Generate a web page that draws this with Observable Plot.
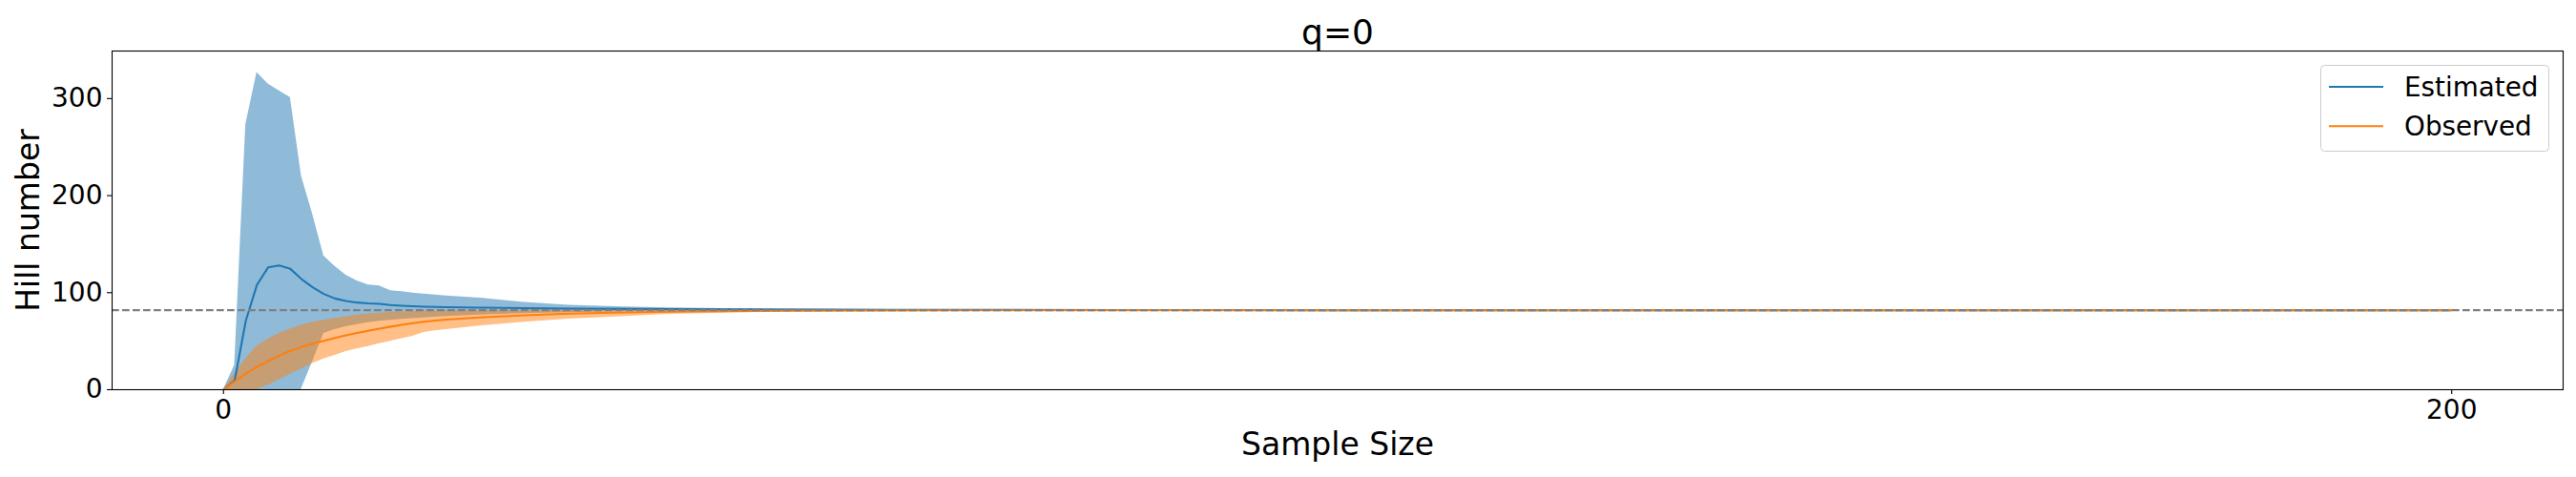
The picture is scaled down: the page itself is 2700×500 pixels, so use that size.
<!DOCTYPE html>
<html>
<head>
<meta charset="utf-8">
<script src="https://cdn.jsdelivr.net/npm/d3@7"></script>
<script src="https://cdn.jsdelivr.net/npm/@observablehq/plot@0.6"></script>
<style>
  body { margin: 0; background: #fff; }
  #wrap { position: relative; width: 2700px; height: 500px; font-family: "DejaVu Sans", sans-serif; }
  #legend { position: absolute; left: 2432px; top: 68px; width: 240px; height: 91px; }
</style>
</head>
<body>
<div id="wrap"><div id="legend"></div></div>
<script>
// ---- data ----
const title = "q=0";
const xLabel = "Sample Size";
const yLabel = "Hill number";
const seriesNames = ["Estimated", "Observed"];
const seriesColors = ["#1f77b4", "#ff7f0e"];
const xTicks = [0, 200];
const yTicks = [0, 100, 200, 300];
const refLine = 82;

const sampleSize = [0,1,2,3,4,5,6,7,8,9,10,11,12,13,14,15,16,17,18,19,20,23,27,31,36,40,45,50,60,70,80,100,150,200];
const estimated  = [0,9.5,71,108,126,128,124.5,114,105.5,98.7,94,91.5,89.8,88.9,88.5,87.2,86.5,86,85.6,85.3,85.1,84.6,84,83.6,83.2,83,82.7,82.5,82.3,82.2,82.1,82,82,82];
const estLower   = [0,-20,-150,-250,-230,-170,-60,1,29,58,62,65,67,69,70.5,71.5,72.5,73.3,74,74.8,75.5,77,78.5,79.5,80.3,80.8,81.1,81.4,81.7,81.8,81.9,82,82,82];
const estUpper   = [0,25,273,327,315,308,301,220,181,138,127,118,112,108,107,102,101,99.5,98.5,97.5,96.5,94.5,90,87,85.2,84.3,83.6,83.2,82.7,82.4,82.2,82.1,82,82];
const observed   = [0,8.5,16.5,23.5,29.5,35,40,44,47.5,50.5,53.3,56,58.5,60.8,63,65,66.8,68.5,70,71.2,72.3,74.5,76.7,78.4,79.7,80.4,80.9,81.3,81.7,81.9,82,82,82,82];
const obsLower   = [0,0,0,0,4.5,10,16,21.5,27,31.8,35.5,39.3,42,44.5,47.5,50,52.5,55,59,60.7,62,65.6,69.5,72.8,75.5,77.6,79,80,81,81.5,81.8,82,82,82];
const obsUpper   = [0,17,32,45,52,58,62.5,66.5,69.5,71.5,73.5,75.3,77,78.2,79,79.6,80.1,80.5,80.8,81.1,81.3,81.6,81.8,81.9,82,82,82,82,82,82,82,82,82,82];

const rows = sampleSize.map((x, i) => ({
  x, est: estimated[i], estLo: estLower[i], estHi: estUpper[i],
  obs: observed[i], obsLo: obsLower[i], obsHi: obsUpper[i]
}));

const plot = Plot.plot({
  width: 2700,
  height: 500,
  marginLeft: 117,
  marginRight: 14,
  marginTop: 53,
  marginBottom: 92,
  x: { domain: [-10, 210] },
  y: { domain: [0, 349] },
  style: { fontFamily: "DejaVu Sans", fontSize: "28px", color: "black", background: "white", overflow: "visible" },
  marks: [
    Plot.areaY(rows, { x: "x", y1: "estLo", y2: "estHi", fill: seriesColors[0], fillOpacity: 0.5, clip: true }),
    Plot.areaY(rows, { x: "x", y1: "obsLo", y2: "obsHi", fill: seriesColors[1], fillOpacity: 0.5, clip: true }),
    Plot.lineY(rows, { x: "x", y: "est", stroke: seriesColors[0], strokeWidth: 2.08, clip: true }),
    Plot.lineY(rows, { x: "x", y: "obs", stroke: seriesColors[1], strokeWidth: 2.08, clip: true }),
    Plot.ruleY([refLine], { stroke: "#808080", strokeWidth: 2.08, strokeDasharray: "7.7,3.3" }),
    Plot.frame({ stroke: "black", strokeWidth: 1.1 }),
    Plot.axisX({ ticks: xTicks, tickSize: 5, tickPadding: 5.5, fontSize: 28, label: null, strokeWidth: 1.1, tickFormat: d => String(d) }),
    Plot.axisY({ ticks: yTicks, tickSize: 5, tickPadding: 5, fontSize: 28, label: null, strokeWidth: 1.1, tickFormat: d => String(d) }),
    Plot.text([title], { text: d => d, frameAnchor: "top", textAnchor: "middle", lineAnchor: "middle", dy: -19.5, fontSize: 36 }),
    Plot.text([xLabel], { text: d => d, frameAnchor: "bottom", textAnchor: "middle", lineAnchor: "middle", dy: 58.4, fontSize: 33 }),
    Plot.text([yLabel], { text: d => d, frameAnchor: "left", textAnchor: "middle", lineAnchor: "middle", dx: -86.6, rotate: -90, fontSize: 33 })
  ]
});
document.getElementById("wrap").prepend(plot);

// ---- legend (inside the axes, upper right) ----
const ns = "http://www.w3.org/2000/svg";
const lg = document.createElementNS(ns, "svg");
lg.setAttribute("width", 241);
lg.setAttribute("height", 92);
lg.style.fontFamily = "DejaVu Sans";
const box = document.createElementNS(ns, "rect");
box.setAttribute("x", 0.5); box.setAttribute("y", 0.5);
box.setAttribute("width", 239); box.setAttribute("height", 90);
box.setAttribute("rx", 4);
box.setAttribute("fill", "rgba(255,255,255,0.8)");
box.setAttribute("stroke", "#cccccc");
lg.appendChild(box);
seriesNames.forEach((name, i) => {
  const cy = 23 + i * 41.3;
  const ln = document.createElementNS(ns, "line");
  ln.setAttribute("x1", 9); ln.setAttribute("x2", 66);
  ln.setAttribute("y1", cy); ln.setAttribute("y2", cy);
  ln.setAttribute("stroke", seriesColors[i]);
  ln.setAttribute("stroke-width", 2.08);
  lg.appendChild(ln);
  const t = document.createElementNS(ns, "text");
  t.setAttribute("x", 88);
  t.setAttribute("y", 32.5 + i * 41.5);
  t.setAttribute("font-size", 27.8);
  t.setAttribute("fill", "black");
  t.textContent = name;
  lg.appendChild(t);
});
document.getElementById("legend").appendChild(lg);
</script>
</body>
</html>
